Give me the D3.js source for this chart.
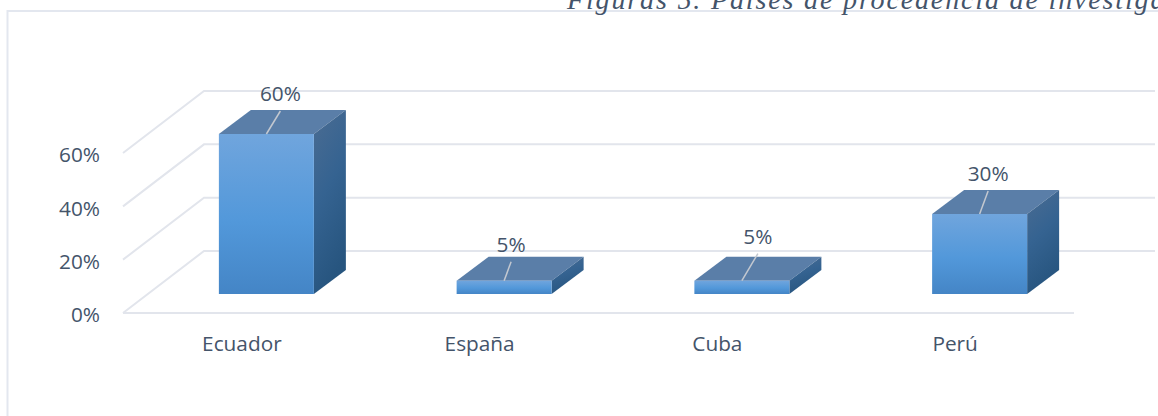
<!DOCTYPE html>
<html>
<head>
<meta charset="utf-8">
<script src="https://d3js.org/d3.v7.min.js"></script>
<style>
    html, body { margin: 0; padding: 0; background: #fff; overflow: hidden; }
    text { font-family: "Open Sans", sans-serif; fill: #44546a; }
</style>
</head>
<body>
<script>
const categories = ['Ecuador', 'España', 'Cuba', 'Perú'];
const values = [60, 5, 5, 30];
const valueLabels = ['60%', '5%', '5%', '30%'];
const yTicks = [0, 20, 40, 60];
const titleText = 'Figuras 5. Países de procedencia de investiga';

// Configuration
const width = 1158, height = 416;
const floor = { left: 123, right: 1074, front: 313, dx: 81, dy: 62 };
const bar = { width: 95, dx: 32, dy: 24 };
const labelSize = '20.8px';
// leader line ends, relative to the middle of the front top edge
const leaders = [[14, -23], [7, -19], [16, -27], [8.5, -23]];

const svg = d3.select('body').append('svg')
    .attr('width', width)
    .attr('height', height);

const defs = svg.append('defs');

function gradient(id, stops, x2, y2) {
    const g = defs.append('linearGradient')
        .attr('id', id)
        .attr('x1', 0).attr('y1', 0)
        .attr('x2', x2).attr('y2', y2);
    stops.forEach(s => {
        g.append('stop').attr('offset', s[0]).attr('stop-color', s[1]);
    });
}
gradient('frontFill', [[0, '#70a5dd'], [0.55, '#5298da'], [1, '#4485c6']], 0, 1);
gradient('sideFill', [[0, '#4b6c92'], [0.5, '#356391'], [1, '#27557f']], 0.3, 1);

// Scales
const xScale = d3.scaleBand()
    .domain(categories)
    .range([floor.left, floor.right]);

const yScale = d3.scaleLinear()
    .domain([0, 60])
    .range([floor.front, 153]);

// Frame
svg.append('rect')
    .attr('x', 7.5)
    .attr('y', 11)
    .attr('width', 1200)
    .attr('height', 500)
    .attr('fill', 'none')
    .attr('stroke', '#e3e7ef')
    .attr('stroke-width', 2);

// Title, cut by the top and right edges as in the source
svg.append('text')
    .attr('x', 567)
    .attr('y', 8.5)
    .style('font-family', '"Liberation Serif", serif')
    .style('font-style', 'italic')
    .style('font-size', '28px')
    .style('letter-spacing', '1.85px')
    .text(titleText);

// Grid: side wall and back wall
const grid = svg.append('g')
    .attr('fill', 'none')
    .attr('stroke', '#e2e5ec')
    .attr('stroke-width', 2);

grid.selectAll('path')
    .data(yTicks)
    .join('path')
    .attr('d', d => {
        const p = d3.path();
        p.moveTo(floor.left, yScale(d));
        p.lineTo(floor.left + floor.dx, yScale(d) - floor.dy);
        p.lineTo(floor.right + floor.dx, yScale(d) - floor.dy);
        return p.toString();
    });

// Floor front edge
svg.append('line')
    .attr('x1', floor.left)
    .attr('x2', floor.right)
    .attr('y1', yScale(0))
    .attr('y2', yScale(0))
    .attr('stroke', '#e2e5ec')
    .attr('stroke-width', 2);

// Axes
const yAxis = svg.append('g')
    .attr('transform', 'translate(103,0)')
    .call(d3.axisLeft(yScale).tickValues(yTicks).tickSize(0).tickFormat(d => d + '%'));
yAxis.select('.domain').remove();
yAxis.selectAll('text')
    .attr('dy', '0.43em')
    .style('font-family', '"Open Sans", sans-serif')
    .style('font-size', labelSize);

svg.selectAll('.cat-label')
    .data(categories)
    .join('text')
    .attr('class', 'cat-label')
    .attr('x', d => xScale(d) + xScale.bandwidth() / 2)
    .attr('y', 351)
    .attr('text-anchor', 'middle')
    .style('font-size', labelSize)
    .text(d => d);

// Bars
const barData = categories.map((c, i) => {
    const x0 = xScale(c) + (xScale.bandwidth() - bar.width) / 2 + (floor.dx - bar.dx) / 2;
    const lift = (floor.dy - bar.dy) / 2;
    return {
        x0: x0,
        x1: x0 + bar.width,
        bottom: yScale(0) - lift,
        top: yScale(values[i]) - lift,
        label: valueLabels[i],
        leader: leaders[i]
    };
});

const bars = svg.selectAll('.bar')
    .data(barData)
    .join('g')
    .attr('class', 'bar');

bars.append('path')
    .attr('fill', '#5a7ea8')
    .attr('d', d => `M${d.x0},${d.top}L${d.x0 + bar.dx},${d.top - bar.dy}L${d.x1 + bar.dx},${d.top - bar.dy}L${d.x1},${d.top}Z`);

bars.append('path')
    .attr('fill', 'url(#sideFill)')
    .attr('d', d => `M${d.x1},${d.top}L${d.x1 + bar.dx},${d.top - bar.dy}L${d.x1 + bar.dx},${d.bottom - bar.dy}L${d.x1},${d.bottom}Z`);

bars.append('rect')
    .attr('x', d => d.x0)
    .attr('y', d => d.top)
    .attr('width', bar.width)
    .attr('height', d => d.bottom - d.top)
    .attr('fill', 'url(#frontFill)');

// Leader lines and value labels
bars.append('line')
    .attr('x1', d => (d.x0 + d.x1) / 2)
    .attr('y1', d => d.top)
    .attr('x2', d => (d.x0 + d.x1) / 2 + d.leader[0])
    .attr('y2', d => d.top + d.leader[1])
    .attr('stroke', '#c3c8d0')
    .attr('stroke-width', 1.5);

bars.append('text')
    .attr('x', d => (d.x0 + d.x1) / 2 + d.leader[0])
    .attr('y', d => d.top + d.leader[1] - 10)
    .attr('text-anchor', 'middle')
    .style('font-size', labelSize)
    .text(d => d.label);
</script>
</body>
</html>
